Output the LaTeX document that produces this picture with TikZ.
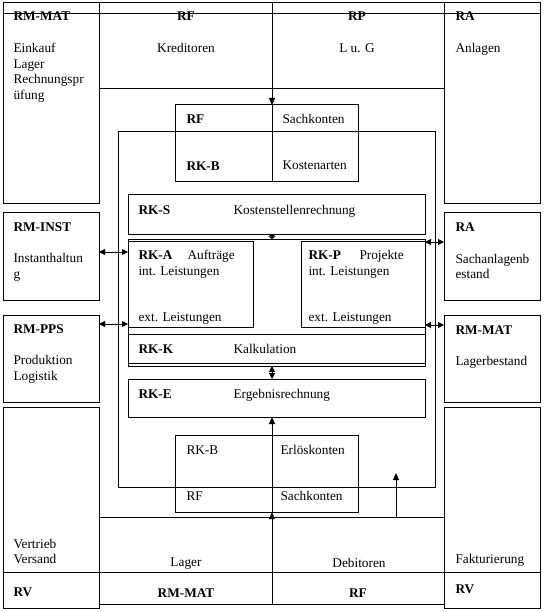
\documentclass[tikz,border=0pt]{standalone}
\usepackage{fontspec}
\setmainfont{Liberation Serif}
\usetikzlibrary{arrows.meta}
\tikzset{
  box/.style={draw, inner sep=0pt, outer sep=0pt, anchor=north west},
  lbl/.style={anchor=base west, inner sep=0pt, font=\fontsize{13.3}{15.5}\selectfont},
  blbl/.style={lbl, font=\fontsize{13.3}{15.5}\selectfont\bfseries},
  clbl/.style={lbl, anchor=base},
  cblbl/.style={blbl, anchor=base},
  arr/.style={-{Triangle[length=7pt,width=6pt]}},
  darr/.style={{Triangle[length=6pt,width=6pt]}-{Triangle[length=6pt,width=6pt]}},
  sdarr/.style={{Triangle[length=2.5pt,width=7pt]}-{Triangle[length=2.5pt,width=7pt]}}
}
\newcommand{\bx}[5]{\node[box, minimum width={(#4-#2)*1pt}, minimum height={(#5-#3)*1pt}] (#1) at (#2,#3) {};}
\begin{document}
\begin{tikzpicture}[x=1pt,y=-1pt,line width=1pt]
\useasboundingbox (0,0) rectangle (544,612);
% boxes
\bx{tl}{3}{3}{99}{204}
\bx{rfrp}{99}{3}{444}{89}
\bx{tr}{444}{3}{540}{204}
\bx{rfb}{175}{105}{358}{182}
\bx{inner}{118}{132}{435}{487}
\bx{rks}{128}{195}{425}{234}
\bx{mid}{128}{239}{425}{366}
\bx{rka}{128}{241}{253}{327}
\bx{rkp}{301}{241}{425}{327}
\bx{rkk}{128}{334}{425}{363}
\bx{rke}{128}{379}{425}{417}
\bx{erl}{175}{435}{358}{512}
\bx{rminst}{3}{213}{99}{300}
\bx{rmpps}{3}{315}{99}{402}
\bx{ra2}{444}{213}{540}{300}
\bx{rmmat2}{444}{315}{540}{402}
\bx{bl}{3}{407}{99}{608}
\bx{br}{444}{407}{540}{608}
\bx{bc}{99}{517}{444}{604}
% horizontal lines
\coordinate (h1) at (0,14);
\coordinate (h2) at (0,572);
\draw (tl.west |- h1) -- (tr.east |- h1);
\draw (bl.west |- h2) -- (br.east |- h2);
% connectors
\coordinate (mx) at (272,0);
\draw[arr] (rfrp.north -| mx) -- (rfb.north -| mx);
\draw (rfb.north -| mx) -- (rfb.south -| mx);
\draw[sdarr] (rks.south -| mx) -- (mid.north -| mx);
\draw[darr] (mid.south -| mx) -- (rke.north -| mx);
\draw[arr] (bc.south -| mx) -- (erl.south -| mx);
\draw[arr] (erl.south -| mx) -- (rke.south -| mx);
\coordinate (ax) at (396,473);
\draw[arr] (bc.north -| ax) -- (ax);
\coordinate (ya) at (0,252);
\coordinate (yb) at (0,324);
\coordinate (yc) at (0,242);
\coordinate (yd) at (0,325);
\draw[darr] (rminst.east |- ya) -- (rka.west |- ya);
\draw[darr] (rmpps.east |- yb) -- (rka.west |- yb);
\draw[darr] (rkp.east |- yc) -- (ra2.west |- yc);
\draw[darr] (rkp.east |- yd) -- (rmmat2.west |- yd);
% texts top
\node[blbl] (t1) at (13,21) {RM-MAT};
\node[lbl] (t2) at (13,53) {Einkauf};
\node[lbl] (t3) at (13,68.5) {Lager};
\node[lbl] (t4) at (13,84) {Rechnungspr};
\node[lbl] (t5) at (13,99.5) {üfung};
\node[cblbl] (t6) at (186,21) {RF};
\node[clbl] (t7) at (186,53) {Kreditoren};
\node[cblbl] (t8) at (357,21) {RP};
\node[clbl] (t9) at (357,53) {L u. G};
\node[blbl] (t10) at (455,21) {RA};
\node[lbl] (t11) at (455,53) {Anlagen};
% small box
\node[blbl] (t12) at (186,124) {RF};
\node[blbl] (t13) at (186,170.5) {RK-B};
\node[lbl] (t14) at (282,123.5) {Sachkonten};
\node[lbl] (t15) at (282,170) {Kostenarten};
% inner
\node[blbl] (t16) at (138,214.5) {RK-S};
\node[lbl] (t17) at (233,214.5) {Kostenstellenrechnung};
\node[blbl] (t18) at (138,259.5) {RK-A};
\node[lbl] (t19) at (187,259.5) {Aufträge};
\node[lbl] (t20) at (138,275) {int. Leistungen};
\node[lbl] (t21) at (138,321) {ext. Leistungen};
\node[blbl] (t22) at (308,259.5) {RK-P};
\node[lbl] (t23) at (359,259.5) {Projekte};
\node[lbl] (t24) at (308,275) {int. Leistungen};
\node[lbl] (t25) at (308,321) {ext. Leistungen};
\node[blbl] (t26) at (138,353) {RK-K};
\node[lbl] (t27) at (233,353) {Kalkulation};
\node[blbl] (t28) at (138,398) {RK-E};
\node[lbl] (t29) at (233,398) {Ergebnisrechnung};
\node[lbl] (t30) at (186,454) {RK-B};
\node[lbl] (t31) at (280,454) {Erlöskonten};
\node[lbl] (t32) at (186,500) {RF};
\node[lbl] (t33) at (280,500) {Sachkonten};
% left middle
\node[blbl] (t34) at (13,231.5) {RM-INST};
\node[lbl] (t35) at (13,262.5) {Instanthaltun};
\node[lbl] (t36) at (13,278) {g};
\node[blbl] (t37) at (13,333) {RM-PPS};
\node[lbl] (t38) at (13,364.5) {Produktion};
\node[lbl] (t39) at (13,380) {Logistik};
% right middle
\node[blbl] (t40) at (455,231) {RA};
\node[lbl] (t41) at (455,263) {Sachanlagenb};
\node[lbl] (t42) at (455,278) {estand};
\node[blbl] (t43) at (455,334) {RM-MAT};
\node[lbl] (t44) at (455,365.5) {Lagerbestand};
% bottom
\node[lbl] (t45) at (13,548.5) {Vertrieb};
\node[lbl] (t46) at (13,563.5) {Versand};
\node[clbl] (t47) at (186,566.5) {Lager};
\node[clbl] (t48) at (359,567) {Debitoren};
\node[lbl] (t49) at (455,563) {Fakturierung};
\node[blbl] (t50) at (13,596) {RV};
\node[cblbl] (t51) at (186,597) {RM-MAT};
\node[cblbl] (t52) at (358,597) {RF};
\node[blbl] (t53) at (455,593) {RV};
\end{tikzpicture}
\end{document}
